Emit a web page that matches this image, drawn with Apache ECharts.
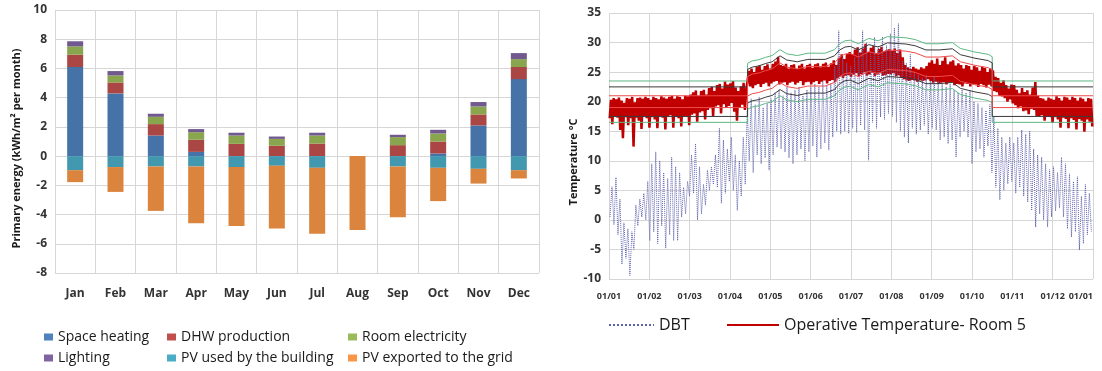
<!DOCTYPE html>
<html>
<head>
<meta charset="utf-8">
<script src="https://cdn.jsdelivr.net/npm/echarts@6/dist/echarts.min.js"></script>
<style>
html, body { margin: 0; padding: 0; background: #fff; }
#main { width: 1102px; height: 371px; }
</style>
</head>
<body>
<div id="main"></div>
<script>
// ---- left panel: monthly primary energy (kWh/m2 per month)
var months = ['Jan', 'Feb', 'Mar', 'Apr', 'May', 'Jun', 'Jul', 'Aug', 'Sep', 'Oct', 'Nov', 'Dec'];
var spaceHeating    = [6.10, 4.29, 1.41, 0.29, 0, 0, 0, 0, 0, 0.18, 2.10, 5.27];
var dhwProduction   = [0.84, 0.75, 0.78, 0.83, 0.84, 0.71, 0.86, 0, 0.75, 0.82, 0.75, 0.83];
var roomElectricity = [0.57, 0.48, 0.50, 0.52, 0.57, 0.47, 0.55, 0, 0.55, 0.55, 0.55, 0.54];
var lighting        = [0.35, 0.30, 0.21, 0.21, 0.19, 0.16, 0.19, 0, 0.16, 0.25, 0.30, 0.41];
var pvUsed          = [-0.96, -0.75, -0.71, -0.71, -0.75, -0.66, -0.80, 0, -0.71, -0.80, -0.87, -0.96];
var pvExported      = [-0.82, -1.70, -3.04, -3.88, -4.04, -4.30, -4.52, -5.05, -3.47, -2.28, -1.01, -0.57];

// ---- right panel: temperatures over the year
var dateTicks = ['01/01', '01/02', '01/03', '01/04', '01/05', '01/06', '01/07',
                 '01/08', '01/09', '01/10', '01/11', '01/12', '01/01'];

// outdoor dry bulb temperature, high / low per 3-day block
var dbtHigh = [
  5.6, 7.2, 3.5, -0.5, -1.5, -2.0, 2.5, 3.5, 4.5, 6.5, 9.5,
  11.5, 10.0, 8.0, 7.0, 10.6, 9.0, 8.0, 5.5, 6.5,
  11.0, 12.9, 9.0, 6.0, 8.4, 9.0, 11.0, 15.5, 13.5, 12.0,
  14.0, 11.0, 10.0, 14.0, 18.5, 20.5, 19.5, 20.8, 19.0, 19.7,
  20.5, 21.5, 22.0, 21.0, 22.5, 21.5, 22.0, 22.5, 21.0, 22.0, 22.5,
  23.0, 22.5, 23.5, 22.8, 23.0, 26.0, 32.0, 27.5, 26.5,
  26.0, 27.5, 29.0, 32.0, 30.0, 28.5, 30.9, 29.5, 31.0, 29.5, 31.5,
  32.5, 33.2, 27.0, 26.5, 28.0, 25.0, 24.5, 24.0, 24.5, 23.5,
  24.2, 23.5, 23.0, 22.5, 23.0, 22.0, 21.5, 22.0, 21.5, 22.0,
  20.0, 19.7, 19.0, 18.5, 19.5, 17.4, 15.5, 14.0, 13.0, 14.0,
  13.0, 14.0, 15.2, 14.5, 15.0, 12.0, 11.0, 10.6, 9.5, 8.5,
  9.0, 8.0, 10.6, 9.5, 7.8, 6.5, 7.3, 4.0, 6.0, 4.5, 1.0
];
var dbtLow = [
  0.5, -0.8, -2.5, -7.5, -6.5, -9.4, -5.0, -1.0, 0.5, 0.0, -3.5,
  -2.0, -4.0, -1.0, -4.8, -2.5, -3.5, -3.5, 0.5, 1.0,
  4.0, 4.5, 0.0, 1.0, 2.5, 5.0, 6.0, 5.5, 2.8, 4.5,
  6.5, 5.0, 1.6, 4.0, 6.0, 10.0, 8.0, 11.0, 9.5, 10.5,
  8.4, 11.0, 12.3, 12.0, 11.5, 10.5, 9.5, 11.0, 12.0, 10.0, 11.5,
  12.5, 10.6, 12.0, 13.0, 11.8, 14.0, 15.0, 14.5, 15.0,
  14.6, 15.5, 14.8, 16.0, 15.2, 10.1, 16.5, 15.5, 17.4, 17.0, 18.0,
  17.5, 16.5, 15.0, 14.0, 13.0, 15.5, 14.5, 15.2, 16.0, 14.5,
  15.5, 15.2, 13.5, 14.0, 12.9, 13.5, 10.6, 14.0, 15.0, 14.0,
  9.5, 11.5, 12.0, 10.6, 12.5, 8.0, 5.5, 3.4, 5.0, 6.1,
  6.5, 4.5, 5.5, 4.0, 3.0, 1.6, -1.2, 1.0, 0.0, -1.2,
  0.5, 1.5, 2.0, 0.5, -1.5, -2.9, -2.0, -5.1, -4.0, -2.5, -2.0
];

// operative temperature room 5, high / low per 2-day block
var opHigh = [
  20.3, 20.6, 20.4, 20.7, 20.2, 19.8, 20.6, 20.5, 20.8, 19.9, 20.6, 20.7, 20.5, 20.8, 20.6, 20.3,
  20.8, 20.6, 20.4, 20.9, 20.7, 20.5, 20.8, 21.0, 20.5, 20.9, 20.8, 20.4, 21.0, 20.9,
  21.2, 21.6, 21.9, 21.0, 21.8, 22.0, 21.2, 22.3, 22.5, 21.8, 22.8, 23.0, 22.2, 23.4, 22.9,
  23.1, 23.5, 22.4, 21.8, 22.6, 23.2, 22.0, 25.2, 25.6, 25.0, 25.9, 26.1, 25.4, 26.0, 26.3,
  25.6, 26.4, 26.8, 27.6, 26.2, 26.0, 26.4, 25.6, 26.2, 26.3, 25.5, 26.1, 26.4, 25.6, 26.2, 26.4,
  25.7, 26.3, 26.5, 25.8, 26.4, 26.6, 25.9, 26.5, 27.0, 26.2, 27.4, 28.0, 27.2, 28.1, 28.4,
  28.0, 28.8, 29.2, 28.3, 29.0, 29.8, 28.4, 29.1, 29.4, 28.2, 28.9, 29.3, 28.5, 28.7, 28.9,
  28.6, 29.0, 28.2, 28.8, 27.5, 26.2, 25.8, 25.5, 25.9, 25.6, 25.4, 25.8, 25.6, 26.0, 26.6, 27.0,
  26.4, 27.3, 26.2, 26.9, 27.5, 26.3, 26.8, 27.0, 26.1, 26.5, 26.2, 25.6, 26.2, 26.0, 25.4,
  26.0, 25.8, 25.2, 25.9, 25.7, 25.0, 25.6, 25.3, 24.2, 24.0, 23.2, 23.6, 22.8, 22.2, 22.9,
  22.8, 22.0, 21.4, 22.3, 21.6, 21.9, 21.2, 22.4, 23.3, 21.0, 20.6, 20.5, 20.2, 20.7, 20.5,
  20.3, 20.9, 20.6, 20.2, 20.8, 20.7, 20.3, 20.8, 20.6, 20.2, 20.7, 20.5, 20.0, 20.6, 20.5, 20.4
];
var opLow = [
  17.2, 16.2, 17.5, 17.3, 15.2, 13.8, 17.4, 16.0, 17.2, 12.4, 17.3, 16.8, 15.4, 17.5, 17.2, 15.6,
  17.4, 17.0, 15.5, 17.6, 17.3, 15.3, 17.5, 17.7, 15.6, 17.5, 17.2, 15.8, 17.6, 17.4,
  16.0, 17.8, 18.0, 16.6, 18.2, 18.4, 17.0, 18.6, 18.9, 17.6, 19.2, 19.4, 18.0, 19.6, 19.0,
  19.3, 19.8, 18.3, 16.8, 19.0, 19.5, 18.6, 21.8, 22.6, 22.3, 22.8, 23.0, 22.5, 23.0, 23.2,
  22.6, 23.1, 23.4, 23.5, 22.9, 23.2, 23.3, 22.8, 23.2, 23.4, 22.9, 23.2, 23.5, 22.8, 23.3, 23.4,
  22.9, 23.3, 23.5, 23.0, 23.4, 23.6, 23.1, 23.5, 23.7, 23.3, 24.0, 24.3, 24.0, 24.4, 24.5,
  24.2, 24.6, 24.8, 24.3, 24.7, 25.0, 24.4, 24.6, 24.9, 24.3, 24.6, 24.8, 24.4, 24.5, 24.7,
  24.6, 24.8, 24.3, 24.5, 24.0, 23.8, 23.6, 23.5, 23.7, 23.6, 23.4, 23.6, 23.5, 23.6, 23.8, 23.5,
  23.2, 23.4, 23.0, 23.2, 23.3, 22.9, 23.2, 23.3, 22.8, 23.0, 22.9, 22.6, 23.1, 23.0, 22.6,
  23.0, 22.9, 22.5, 23.0, 22.8, 22.4, 22.9, 22.6, 21.8, 21.6, 21.0, 20.9, 20.6, 20.0, 20.4,
  19.7, 19.4, 18.9, 19.2, 18.4, 18.5, 17.9, 18.8, 18.6, 17.6, 17.5, 17.7, 16.8, 17.5, 17.4,
  16.4, 17.4, 17.0, 15.6, 17.3, 17.1, 15.5, 17.2, 16.9, 15.3, 17.1, 16.8, 14.9, 17.0, 16.6, 15.8
];

// comfort bands: fixed in heating season, adaptive (running mean) in summer
var winterCenter = 20;
var winterHalf = [3.5, 2.5, 1.0];      // green, black, red
var summerHalf = [3.9, 2.85, 1.65];
var summerDays = [104.5, 108, 113, 118, 123, 129, 134, 142, 150, 163, 170, 174, 178, 182,
                  188, 196, 203, 210, 224, 231, 239, 249, 259, 265, 276, 286, 289];
var summerCenter = [22.6, 23.0, 23.2, 23.6, 23.9, 24.9, 24.2, 23.9, 24.3, 24.3, 24.9, 25.9, 26.4, 26.5,
                    25.9, 26.8, 26.4, 27.1, 26.9, 26.6, 25.9, 25.9, 26.1, 25.1, 24.5, 24.1, 23.7];

var HOURS = 8760;

function zigzag(lows, highs, days) {
  var pts = [];
  for (var i = 0; i < lows.length; i++) {
    var t0 = (i * days + days * 0.25) * 24;
    var t1 = (i * days + days * 0.75) * 24;
    if (t0 <= HOURS) pts.push([t0, lows[i]]);
    if (t1 <= HOURS) pts.push([t1, highs[i]]);
  }
  return pts;
}

function bandLine(k, sign) {
  var w = winterCenter + sign * winterHalf[k];
  var first = summerDays[0] * 24, last = summerDays[summerDays.length - 1] * 24;
  var pts = [[0, w], [first, w]];
  for (var i = 0; i < summerDays.length; i++) {
    pts.push([summerDays[i] * 24, summerCenter[i] + sign * summerHalf[k]]);
  }
  pts.push([last, w], [HOURS, w]);
  return pts;
}

var bandColors = ['#5cb884', '#3a3a3a', '#ef4a4a'];
var bandSeries = [];
[0, 1, 2].forEach(function (k) {
  [1, -1].forEach(function (s) {
    bandSeries.push({
      type: 'line', xAxisIndex: 1, yAxisIndex: 1, silent: true,
      symbol: 'none', z: 4,
      lineStyle: { color: bandColors[k], width: 1 },
      data: bandLine(k, s)
    });
  });
});

var font = 'Open Sans, Noto Sans, sans-serif';
var gridLine = { lineStyle: { color: '#d6d6d6', width: 1 } };

var chart = echarts.init(document.getElementById('main'));

function barSeries(name, data, color) {
  return {
    name: name, type: 'bar', stack: 'energy', barWidth: 16,
    xAxisIndex: 0, yAxisIndex: 0,
    itemStyle: { color: color },
    data: data
  };
}

function legendCol(left, names, colors) {
  return {
    left: left, top: 325, orient: 'vertical', itemGap: 7,
    itemWidth: 9, itemHeight: 7, icon: 'rect',
    textStyle: { fontFamily: font, fontSize: 14, color: '#1a1a1a' },
    data: names.map(function (n, i) { return { name: n, itemStyle: { color: colors[i] } }; })
  };
}

function lineLegend(left, width, name) {
  return {
    left: left, top: 312, itemWidth: width, itemHeight: 6,
    itemStyle: { opacity: 0 },
    textStyle: { fontFamily: font, fontSize: 16, color: '#1a1a1a' },
    data: [name]
  };
}

var option = {
  animation: false,
  textStyle: { fontFamily: font },
  grid: [
    { left: 55, top: 10, width: 484, height: 263 },
    { left: 609, top: 13, width: 484, height: 266 }
  ],
  legend: [
    legendCol(39, ['Space heating', 'Lighting'], ['#4f81bd', '#8064a2']),
    legendCol(162, ['DHW production', 'PV used by the building'], ['#c0504d', '#4bacc6']),
    legendCol(343, ['Room electricity', 'PV exported to the grid'], ['#9bbb59', '#f79646']),
    lineLegend(603, 45, 'DBT'),
    lineLegend(721, 52, 'Operative Temperature- Room 5')
  ],
  xAxis: [
    {
      type: 'category', gridIndex: 0, data: months,
      axisLine: { show: false }, axisTick: { show: false },
      splitLine: { show: true, lineStyle: gridLine.lineStyle },
      axisLabel: { margin: 15, fontFamily: font, fontSize: 12, fontWeight: 'bold', color: '#333' }
    },
    {
      type: 'value', gridIndex: 1, min: 0, max: HOURS, interval: 730,
      axisLine: { show: false }, axisTick: { show: false },
      splitLine: gridLine,
      axisLabel: {
        margin: 13, fontFamily: font, fontSize: 9, fontWeight: 'bold', color: '#333',
        alignMaxLabel: 'right',
        formatter: function (v) { return dateTicks[Math.round(v / 730)]; }
      }
    }
  ],
  yAxis: [
    {
      type: 'value', gridIndex: 0, min: -8, max: 10, interval: 2,
      axisLine: { show: false }, axisTick: { show: false },
      splitLine: gridLine,
      axisLabel: { margin: 8, fontFamily: font, fontSize: 12, fontWeight: 'bold', color: '#333' },
      name: 'Primary energy (kWh/m² per month)', nameLocation: 'middle', nameGap: 33,
      nameTextStyle: { fontFamily: font, fontSize: 11, fontWeight: 'bold', color: '#1a1a1a',
                       padding: [0, 14, 0, 0] }
    },
    {
      type: 'value', gridIndex: 1, min: -10, max: 35, interval: 5,
      axisLine: { show: false }, axisTick: { show: false },
      splitLine: gridLine,
      axisLabel: { margin: 8, fontFamily: font, fontSize: 12, fontWeight: 'bold', color: '#333' },
      name: 'Temperature °C', nameLocation: 'middle', nameGap: 23,
      nameTextStyle: { fontFamily: font, fontSize: 11, fontWeight: 'bold', color: '#1a1a1a',
                       padding: [0, 32, 0, 0] }
    }
  ],
  series: [
    barSeries('Space heating', spaceHeating, '#4572a7'),
    barSeries('DHW production', dhwProduction, '#aa4643'),
    barSeries('Room electricity', roomElectricity, '#89a54e'),
    barSeries('Lighting', lighting, '#71588f'),
    barSeries('PV used by the building', pvUsed, '#4198af'),
    barSeries('PV exported to the grid', pvExported, '#db843d'),
    {
      name: 'Operative Temperature- Room 5', type: 'line', xAxisIndex: 1, yAxisIndex: 1,
      symbol: 'none', z: 2,
      lineStyle: { color: '#c00000', width: 2.5 },
      itemStyle: { color: '#c00000' },
      data: zigzag(opLow, opHigh, 2)
    },
    {
      name: 'DBT', type: 'line', xAxisIndex: 1, yAxisIndex: 1,
      symbol: 'none', z: 3,
      lineStyle: { color: '#5f63ab', width: 1, type: 'dotted' },
      itemStyle: { color: '#5f63ab' },
      data: zigzag(dbtLow, dbtHigh, 3)
    }
  ].concat(bandSeries)
};

chart.setOption(option);
</script>
</body>
</html>
